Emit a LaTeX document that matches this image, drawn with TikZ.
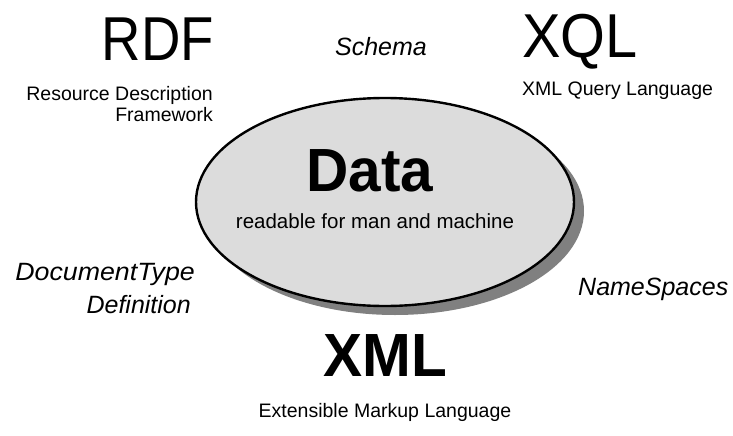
\documentclass[tikz,border=0pt]{standalone}
\usepackage{fontspec}
\setmainfont{Liberation Sans}
\usepackage{graphicx}
\definecolor{ellfill}{HTML}{DCDCDC}
\definecolor{ellshadow}{HTML}{808080}
\begin{document}
\begin{tikzpicture}[x=1pt,y=-1pt,
  bigtxt/.style={inner sep=0pt,anchor=base,font=\fontsize{62}{62}\selectfont},
  boldtxt/.style={inner sep=0pt,anchor=base,font=\fontsize{61}{61}\selectfont\bfseries},
  smalltxt/.style={inner sep=0pt,font=\fontsize{19.5}{22}\selectfont},
  itxt/.style={inner sep=0pt,font=\fontsize{25}{28}\selectfont\itshape}]
\useasboundingbox (0,0) rectangle (733,436);
% ellipse with shadow
\fill[ellshadow] (395,211) ellipse [x radius=189, y radius=104];
\draw[line width=2.4pt, fill=ellfill] (385,202) ellipse [x radius=189, y radius=104];
\node (ell) at (385,202) {};
% top texts
\node[bigtxt] (rdf) at (158,60) {\scalebox{0.88}[1]{RDF}};
\node[smalltxt,anchor=base east] (rdf1) at (213,100) {Resource Description};
\node[smalltxt,anchor=base east] (rdf2) at (213,121) {Framework};
\node[itxt,anchor=base] (schema) at (381,56) {Schema};
\node[bigtxt] (xql) at (580,58) {\scalebox{0.93}[1]{XQL}};
\node[smalltxt,anchor=base west] (xql1) at (522,95) {XML Query Language};
% ellipse texts
\node[boldtxt] (data) at (370,191) {\scalebox{0.96}[1]{Data}};
\node[smalltxt,anchor=base,font=\fontsize{20.5}{22}\selectfont] (read) at (375,228) {readable for man and machine};
% side texts
\node[itxt,anchor=base east] (dtd1) at (195,280) {\scalebox{1.07}[1]{DocumentType}};
\node[itxt,anchor=base east] (dtd2) at (191,313) {Definition};
\node[itxt,anchor=base west] (ns) at (578,295) {NameSpaces};
% bottom texts
\node[boldtxt] (xml) at (385,376) {\scalebox{0.96}[1]{XML}};
\node[smalltxt,anchor=base] (xml1) at (385,417) {Extensible Markup Language};
\end{tikzpicture}
\end{document}
